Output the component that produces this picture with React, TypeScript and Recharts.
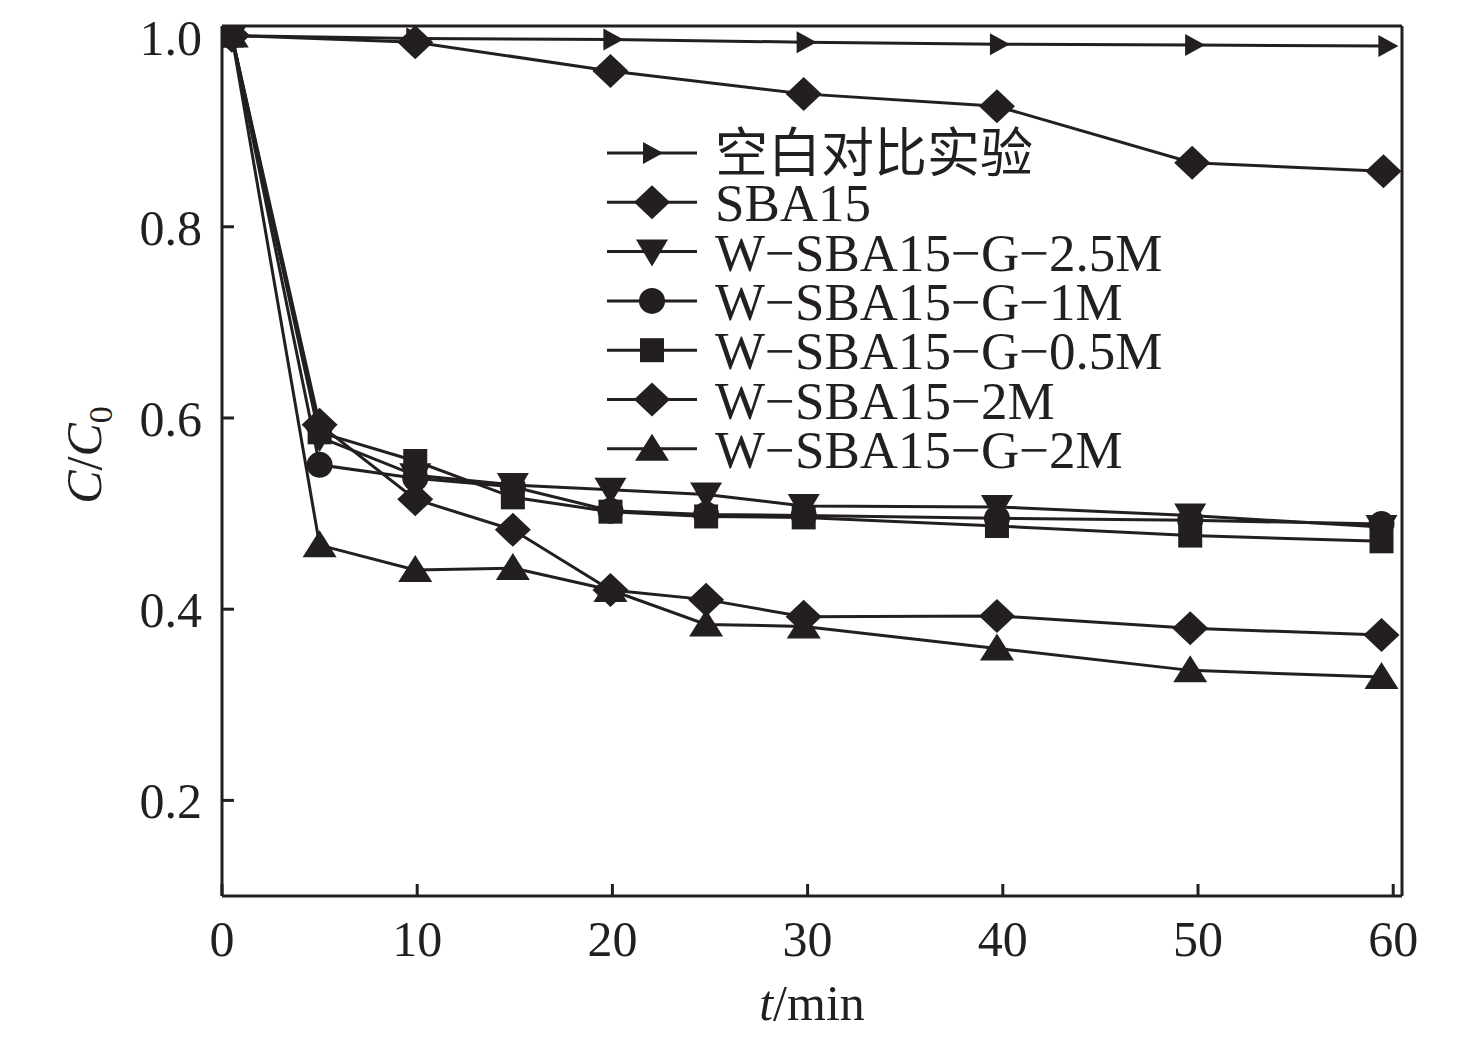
import { LineChart, Line, XAxis, YAxis, Legend, ReferenceLine } from "recharts"

// shared sampling times (min) for the W-SBA15 samples
const time = [0.5, 5, 9.9, 14.9, 19.9, 24.8, 29.8, 39.7, 49.6, 59.4]
const sbaTime = [0.5, 9.9, 19.9, 29.8, 39.7, 49.7, 59.5]
const blankTime = [0.5, 9.9, 20, 29.9, 39.8, 49.8, 59.7]

const blank = [1.0, 0.997, 0.996, 0.993, 0.991, 0.99, 0.989]
const sba15 = [1.0, 0.993, 0.963, 0.939, 0.926, 0.867, 0.858]
const g25M = [1.0, 0.58, 0.54, 0.53, 0.525, 0.52, 0.508, 0.507, 0.498, 0.486]
const g1M = [1.0, 0.551, 0.537, 0.528, 0.503, 0.499, 0.498, 0.495, 0.493, 0.489]
const g05M = [1.0, 0.585, 0.555, 0.517, 0.502, 0.497, 0.496, 0.487, 0.477, 0.471]
const w2M = [1.0, 0.593, 0.515, 0.483, 0.42, 0.41, 0.392, 0.393, 0.38, 0.373]
const g2M = [1.0, 0.467, 0.441, 0.443, 0.42, 0.384, 0.382, 0.359, 0.336, 0.329]

const xTicks = [0, 10, 20, 30, 40, 50, 60]
const yTicks = [0.2, 0.4, 0.6, 0.8, 1.0]
const xMax = 60.45
const yRange = [0.1, 1.01]

const INK = "#231f20"
const FONT = "'Liberation Serif', 'Times New Roman', 'Noto Sans CJK SC', serif"

const toRows = (xs: number[], ys: number[]) => xs.map((t, i) => ({ t, v: ys[i] }))

const series = [
    { name: "空白对比实验", shape: "right", data: toRows(blankTime, blank) },
    { name: "SBA15", shape: "diamond", data: toRows(sbaTime, sba15) },
    { name: "W−SBA15−G−2.5M", shape: "down", data: toRows(time, g25M) },
    { name: "W−SBA15−G−1M", shape: "circle", data: toRows(time, g1M) },
    { name: "W−SBA15−G−0.5M", shape: "square", data: toRows(time, g05M) },
    { name: "W−SBA15−2M", shape: "diamond", data: toRows(time, w2M) },
    { name: "W−SBA15−G−2M", shape: "up", data: toRows(time, g2M) },
]

function Marker({ shape, cx, cy }: { shape: string; cx: number; cy: number }) {
    if (cx == null || cy == null) return null
    switch (shape) {
        case "right":
            return <polygon points={`${cx - 9},${cy - 11} ${cx + 11},${cy} ${cx - 9},${cy + 11}`} fill={INK} />
        case "diamond":
            return <polygon points={`${cx},${cy - 17} ${cx + 18},${cy} ${cx},${cy + 17} ${cx - 18},${cy}`} fill={INK} />
        case "down":
            return <polygon points={`${cx - 16},${cy - 12} ${cx + 16},${cy - 12} ${cx},${cy + 15}`} fill={INK} />
        case "circle":
            return <circle cx={cx} cy={cy} r={13} fill={INK} />
        case "square":
            return <rect x={cx - 12} y={cy - 12} width={24} height={24} fill={INK} />
        default:
            return <polygon points={`${cx},${cy - 15} ${cx + 17},${cy + 12} ${cx - 17},${cy + 12}`} fill={INK} />
    }
}

function LegendBox() {
    return (
        <svg width={640} height={390} style={{ display: "block", overflow: "visible" }}>
            {series.map((s, i) => {
                const y = 45 + i * 49.3
                return (
                    <g key={s.name}>
                        <line x1={0} x2={90} y1={y} y2={y} stroke={INK} strokeWidth={3} />
                        <Marker shape={s.shape} cx={45} cy={y} />
                        <text x={108} y={y} dy="0.36em" fontSize={53} fontFamily={FONT} fill={INK}>
                            {s.name}
                        </text>
                    </g>
                )
            })}
        </svg>
    )
}

export default function App() {
    return (
        <div style={{ position: "relative", width: 1460, height: 1027, fontFamily: FONT }}>
            <LineChart width={1460} height={1027} margin={{ top: 18, right: 66, left: 114, bottom: 59 }}>
                <XAxis
                    type="number"
                    dataKey="t"
                    domain={[0, xMax]}
                    ticks={xTicks}
                    allowDataOverflow
                    height={80}
                    stroke={INK}
                    strokeWidth={3}
                    tickSize={-12}
                    tickMargin={36}
                    tick={{ fontSize: 50, fill: INK, fontFamily: FONT }}
                />
                <YAxis
                    type="number"
                    domain={yRange}
                    ticks={yTicks}
                    allowDataOverflow
                    width={100}
                    stroke={INK}
                    strokeWidth={3}
                    tickSize={-12}
                    tickMargin={32}
                    tickFormatter={(v: number) => v.toFixed(1)}
                    tick={{ fontSize: 50, fill: INK, fontFamily: FONT }}
                />
                {/* top and right frame */}
                <ReferenceLine y={yRange[1]} stroke={INK} strokeWidth={3} ifOverflow="visible" />
                <ReferenceLine x={xMax} stroke={INK} strokeWidth={3} ifOverflow="visible" />
                <Legend
                    layout="vertical"
                    align="center"
                    verticalAlign="middle"
                    content={() => <LegendBox />}
                    wrapperStyle={{ position: "absolute", left: 599, top: 100, width: 640, height: 390 }}
                />
                {series.map((s) => (
                    <Line
                        key={s.name}
                        data={s.data}
                        dataKey="v"
                        name={s.name}
                        type="linear"
                        stroke={INK}
                        strokeWidth={3}
                        isAnimationActive={false}
                        dot={(p: any) => <Marker key={`${s.name}-${p.index}`} shape={s.shape} cx={p.cx} cy={p.cy} />}
                        activeDot={false}
                    />
                ))}
            </LineChart>
            <div
                style={{
                    position: "absolute",
                    left: 80,
                    top: 447,
                    transform: "translate(-50%, -50%) rotate(-90deg)",
                    fontSize: 50,
                    color: INK,
                    whiteSpace: "nowrap",
                    lineHeight: 1,
                }}
            >
                <i>C</i>/<i>C</i>
                <sub style={{ fontSize: 34 }}>0</sub>
            </div>
            <div
                style={{
                    position: "absolute",
                    left: 804,
                    top: 995,
                    transform: "translate(-50%, -50%)",
                    fontSize: 50,
                    color: INK,
                    whiteSpace: "nowrap",
                    lineHeight: 1,
                }}
            >
                <i>t</i>/min
            </div>
        </div>
    )
}
